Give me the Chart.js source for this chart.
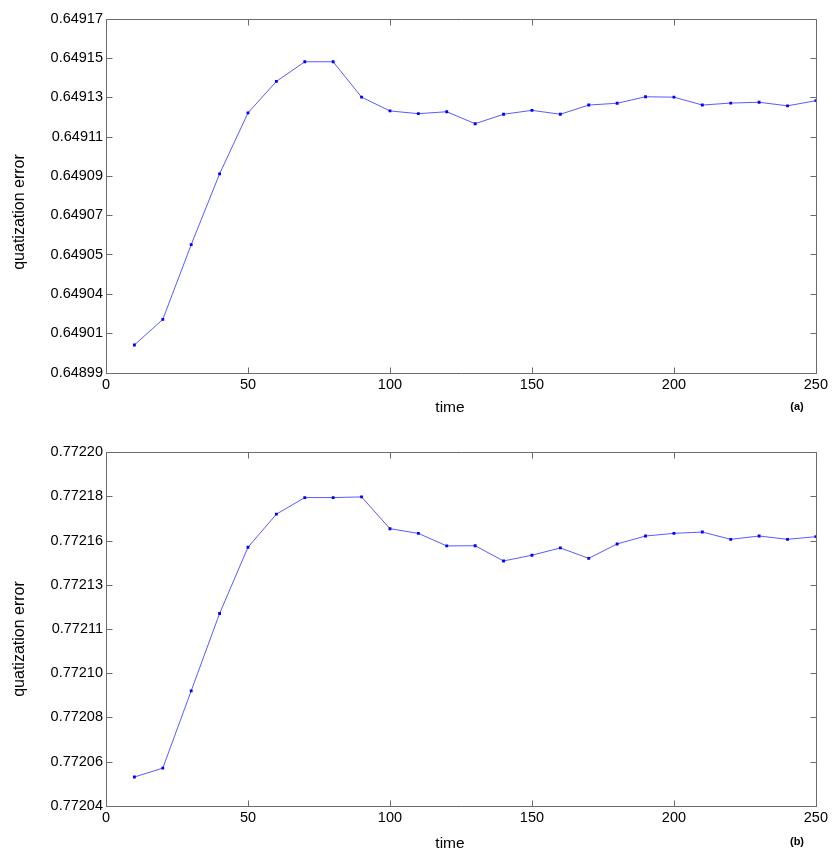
<!DOCTYPE html>
<html>
<head>
<meta charset="utf-8">
<script src="https://cdn.jsdelivr.net/npm/chart.js@4/dist/chart.umd.min.js"></script>
<style>
  html, body { margin: 0; padding: 0; background: #ffffff; }
  #wrap { position: relative; width: 832px; height: 851px; }
  canvas { position: absolute; left: 0; }
</style>
</head>
<body>
<div id="wrap">
  <canvas id="cA" width="832" height="420" style="top:0px"></canvas>
  <canvas id="cB" width="832" height="431" style="top:420px"></canvas>
</div>
<script>
// ---- data ----
const timeSteps = [10,20,30,40,50,60,70,80,90,100,110,120,130,140,150,160,170,180,190,200,210,220,230,240,250];
const errorA = [0.649004,0.649017,0.649055,0.649091,0.649122,0.649138,0.649148,0.649148,0.649130,0.649123,
                0.6491216,0.6491226,0.6491165,0.6491213,0.6491233,0.6491213,0.649126,0.6491269,0.6491302,0.649130,
                0.649126,0.649127,0.6491274,0.6491256,0.6491282];
const errorB = [0.772053,0.772057,0.772092,0.772127,0.772157,0.772172,0.7721795,0.7721795,0.7721798,0.7721654,
                0.7721633,0.7721576,0.7721577,0.7721508,0.7721534,0.7721567,0.772152,0.7721585,0.7721621,0.7721633,
                0.7721639,0.7721606,0.7721621,0.7721606,0.7721618];
const yLabelsA = ["0.64899","0.64901","0.64904","0.64905","0.64907","0.64909","0.64911","0.64913","0.64915","0.64917"];
const yLabelsB = ["0.77204","0.77206","0.77208","0.77210","0.77211","0.77213","0.77216","0.77218","0.77220"];
const yRangeA = [0.64899, 0.64917];
const yRangeB = [0.77204, 0.77220];
const xRange = [0, 250];
const xStep = 50;
const yTitle = "quatization error";
const xTitle = "time";
const panelTags = ["(a)", "(b)"];

const FONT = '"Liberation Sans", Arial, Helvetica, sans-serif';
const BOX = '#6b6b6b';

function makeChart(id, values, yLabels, yRange, tag, geo) {
  const tickPlugin = {
    id: 'matlabBox',
    afterDraw(chart) {
      const ctx = chart.ctx;
      const a = chart.chartArea;
      const xs = chart.scales.x, ys = chart.scales.y;
      ctx.save();
      ctx.strokeStyle = BOX;
      ctx.lineWidth = 1;
      const L = Math.round(a.left) + 0.5, R = Math.round(a.right) + 0.5;
      const T = Math.round(a.top) + 0.5, B = Math.round(a.bottom) + 0.5;
      ctx.beginPath();
      ctx.rect(L, T, R - L, B - T);
      ctx.stroke();
      const tl = 6;
      ctx.beginPath();
      xs.ticks.forEach(t => {
        const px = Math.round(xs.getPixelForValue(t.value)) + 0.5;
        ctx.moveTo(px, B); ctx.lineTo(px, B - tl);
        ctx.moveTo(px, T); ctx.lineTo(px, T + tl);
      });
      ys.ticks.forEach(t => {
        const py = Math.round(ys.getPixelForValue(t.value)) + 0.5;
        ctx.moveTo(L, py); ctx.lineTo(L + tl, py);
        ctx.moveTo(R, py); ctx.lineTo(R - tl, py);
      });
      ctx.stroke();
      // titles
      ctx.fillStyle = '#000';
      ctx.textAlign = 'center';
      ctx.textBaseline = 'middle';
      ctx.font = '15.5px ' + FONT;
      ctx.fillText(xTitle, geo.xTitleX, geo.xTitleY);
      ctx.save();
      ctx.translate(geo.yTitleX, geo.yTitleY);
      ctx.rotate(-Math.PI / 2);
      ctx.font = '16px ' + FONT;
      ctx.fillText(yTitle, 0, 0);
      ctx.restore();
      ctx.font = 'bold 11px ' + FONT;
      ctx.fillText(tag, geo.tagX, geo.tagY);
      ctx.restore();
    }
  };

  return new Chart(document.getElementById(id), {
    type: 'line',
    data: {
      datasets: [{
        data: timeSteps.map((t, i) => ({ x: t, y: values[i] })),
        borderColor: '#5a5aff',
        borderWidth: 1,
        pointStyle: 'rect',
        pointRadius: 2,
        pointBackgroundColor: '#0000ff',
        pointBorderColor: '#0000ff',
        pointBorderWidth: 0,
        tension: 0,
        fill: false
      }]
    },
    options: {
      responsive: false,
      animation: false,
      events: [],
      layout: { padding: { left: geo.left - 70, right: 832 - geo.right, top: geo.top, bottom: geo.h - geo.bottom - 24 } },
      plugins: { legend: { display: false }, tooltip: { enabled: false }, title: { display: false } },
      scales: {
        x: {
          type: 'linear',
          min: xRange[0], max: xRange[1],
          ticks: { stepSize: xStep, color: '#000', font: { family: FONT, size: 14.5 }, padding: 4, maxRotation: 0 },
          grid: { display: false, drawTicks: false },
          border: { display: false },
          afterFit(s) { s.height = 24; }
        },
        y: {
          type: 'linear',
          min: yRange[0], max: yRange[1],
          afterBuildTicks(s) {
            const n = yLabels.length;
            s.ticks = yLabels.map((l, i) => ({ value: yRange[0] + i * (yRange[1] - yRange[0]) / (n - 1) }));
          },
          ticks: {
            color: '#000', font: { family: FONT, size: 14.5 }, padding: 3,
            callback: (v, i) => yLabels[i]
          },
          grid: { display: false, drawTicks: false },
          border: { display: false },
          afterFit(s) { s.width = 70; }
        }
      }
    },
    plugins: [tickPlugin]
  });
}

makeChart('cA', errorA, yLabelsA, yRangeA, panelTags[0],
  { left: 106, right: 817.5, top: 18.5, bottom: 372.5, h: 420,
    xTitleX: 450, xTitleY: 408, yTitleX: 20, yTitleY: 212, tagX: 797, tagY: 407 });
makeChart('cB', errorB, yLabelsB, yRangeB, panelTags[1],
  { left: 106, right: 817.5, top: 32.3, bottom: 385.7, h: 431,
    xTitleX: 450, xTitleY: 423.5, yTitleX: 20, yTitleY: 219, tagX: 797, tagY: 421.5 });
</script>
</body>
</html>
